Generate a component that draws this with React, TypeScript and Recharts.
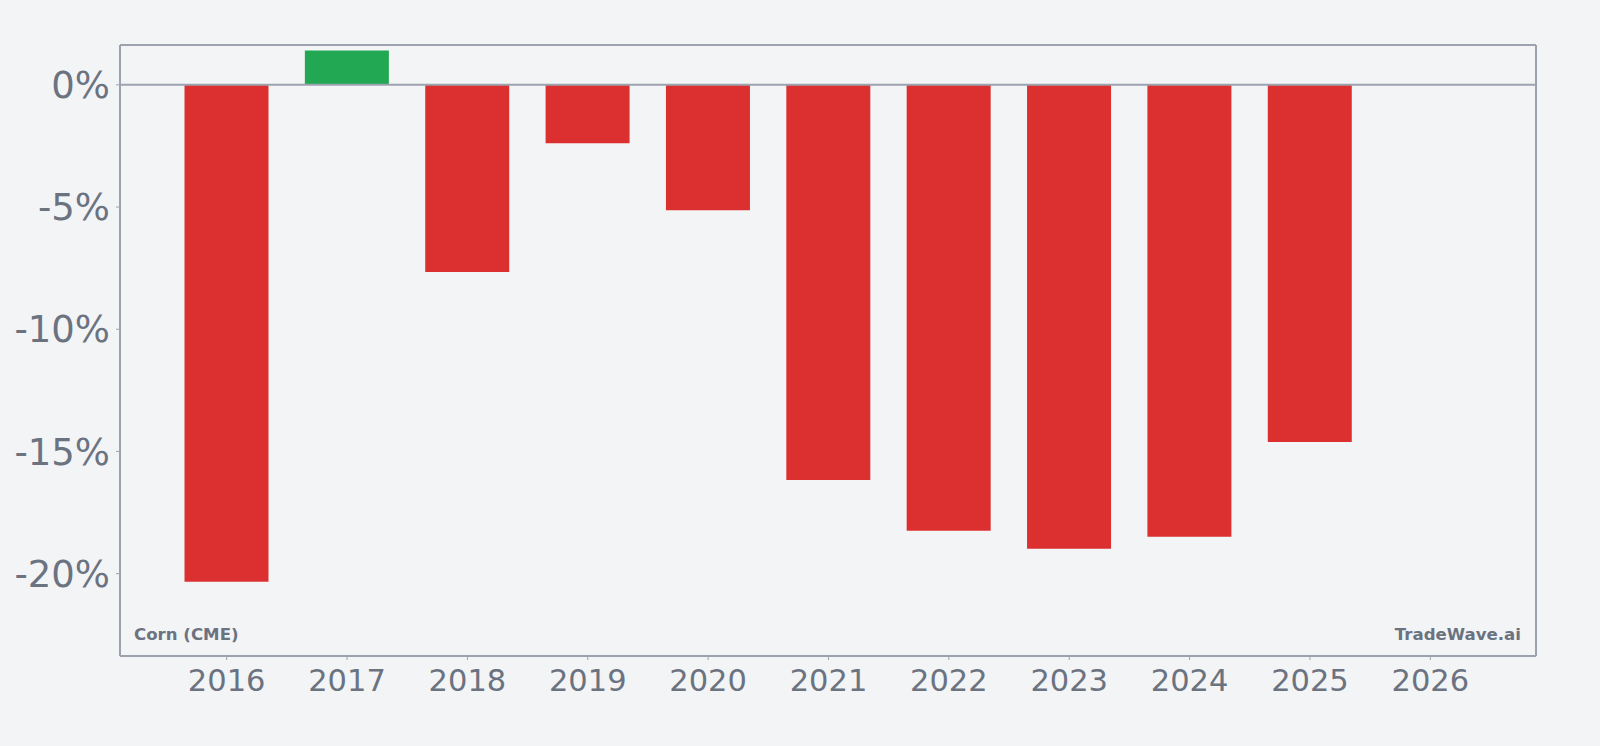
import React from 'react';
import {
  BarChart,
  Bar,
  Cell,
  XAxis,
  YAxis,
  ReferenceLine
} from 'recharts';

// yearly change per contract year, % (2026 has no bar yet)
const years = ['2016', '2017', '2018', '2019', '2020', '2021', '2022', '2023', '2024', '2025', '2026'];
const changes: (number | null)[] = [-20.33, 1.41, -7.66, -2.39, -5.13, -16.17, -18.25, -18.98, -18.49, -14.61, null];
const yTicks = [0, -5, -10, -15, -20];
const yDomain: [number, number] = [-23.37, 1.63];

const bg = '#f3f4f6';
const frame = '#9ca3af';
const textColor = '#6b7280';
const up = '#22a752';
const down = '#dc3030';
const font = '"DejaVu Sans", sans-serif';

const data = years.map((year, i) => ({ year, change: changes[i] }));

export default function App() {
  return (
    <div style={{ position: 'absolute', left: 0, top: 0, width: 1600, height: 746, background: bg }}>
      <BarChart
        width={1600}
        height={746}
        data={data}
        margin={{ top: 44, right: 63, bottom: 0, left: 10 }}
        barSize={84}
      >
        <XAxis
          dataKey="year"
          padding={{ left: 46.5, right: 45.5 }}
          axisLine={{ stroke: frame, strokeWidth: 2 }}
          tickLine={{ stroke: frame }}
          tickSize={4}
          tickMargin={9}
          height={90}
          interval={0}
          tick={{ fontSize: 30.5, fill: textColor, fontFamily: font }}
        />
        {/* top + right axes only draw the rest of the frame */}
        <XAxis
          xAxisId="top"
          dataKey="year"
          orientation="top"
          padding={{ left: 46.5, right: 45.5 }}
          axisLine={{ stroke: frame, strokeWidth: 2 }}
          tick={false}
          tickLine={false}
          height={1}
        />
        <YAxis
          type="number"
          domain={yDomain}
          ticks={yTicks}
          allowDataOverflow
          width={110}
          axisLine={{ stroke: frame, strokeWidth: 2 }}
          tickLine={{ stroke: frame }}
          tickSize={4}
          tickMargin={6}
          tickFormatter={(v) => `${v}%`}
          tick={{ fontSize: 37, fill: textColor, fontFamily: font }}
        />
        <YAxis
          yAxisId="right"
          orientation="right"
          type="number"
          domain={yDomain}
          allowDataOverflow
          width={1}
          axisLine={{ stroke: frame, strokeWidth: 2 }}
          tick={false}
          tickLine={false}
        />
        <ReferenceLine y={0} stroke={frame} strokeWidth={2} />
        <Bar dataKey="change" isAnimationActive={false}>
          {data.map((d, i) => (
            <Cell key={i} fill={(d.change ?? 0) >= 0 ? up : down} />
          ))}
        </Bar>
      </BarChart>
      <svg
        width={1600}
        height={746}
        style={{ position: 'absolute', left: 0, top: 0, pointerEvents: 'none' }}
      >
        <text x={134} y={640} fontSize={16.6} fontWeight="bold" fill={textColor} fontFamily={font}>
          Corn (CME)
        </text>
        <text x={1521} y={640} fontSize={16.6} fontWeight="bold" fill={textColor} fontFamily={font} textAnchor="end">
          TradeWave.ai
        </text>
      </svg>
    </div>
  );
}
